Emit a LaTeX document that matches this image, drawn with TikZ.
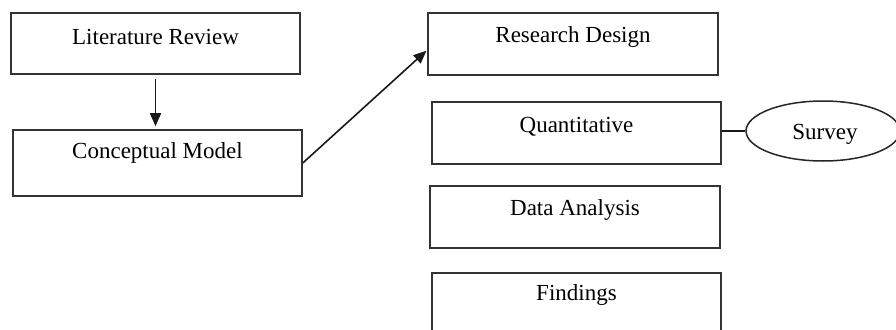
\documentclass[tikz,border=0pt]{standalone}
\usepackage{fontspec}
\setmainfont{Liberation Serif}
\usetikzlibrary{arrows.meta,shapes.geometric}
\begin{document}
\begin{tikzpicture}[x=1pt,y=-1pt,
  box/.style={draw=black!80,line width=1.6pt,rectangle,inner sep=0pt,minimum width=289pt,minimum height=62pt},
  lbl/.style={inner sep=0pt,font=\fontsize{23}{27}\selectfont},
  conn/.style={line width=1.6pt,draw=black!90},
  arr/.style={conn,-{Triangle[length=13pt,width=11pt]}}]
\useasboundingbox (0,0) rectangle (896,329);
\clip (0,0) rectangle (896,329);
\fill[white] (0,0) rectangle (896,329);
\node[box,minimum height=61pt] (lr) at (155.5,43.5) {};
\node[lbl] (lrt) at (155.5,37) {Literature Review};
\node[box,minimum height=66pt] (cm) at (157.5,163) {};
\node[lbl] (cmt) at (157.5,153) {Conceptual Model};
\node[box,minimum width=290pt] (rd) at (573,44) {};
\node[lbl] (rdt) at (573,37) {Research Design};
\node[box] (qt) at (576.5,133) {};
\node[lbl] (qtt) at (576.5,127) {Quantitative};
\node[box,minimum width=290pt] (da) at (575,217) {};
\node[lbl] (dat) at (575,210) {Data Analysis};
\node[box] (fi) at (576.5,304) {};
\node[lbl] (fit) at (576.5,295) {Findings};
\node[draw=black!85,line width=1.5pt,ellipse,inner sep=0pt,minimum width=154pt,minimum height=60pt] (sv) at (823,131) {};
\node[lbl] (svt) at (825,134) {Survey};
\draw[arr,shorten <=4pt,shorten >=3pt] (lr.south) -- (lr.south |- cm.north);
\draw[arr,shorten >=1pt] (cm.east) -- ([yshift=-6pt]rd.west);
\draw[conn] (qt.east |- sv.west) -- (sv.west);
\end{tikzpicture}
\end{document}
